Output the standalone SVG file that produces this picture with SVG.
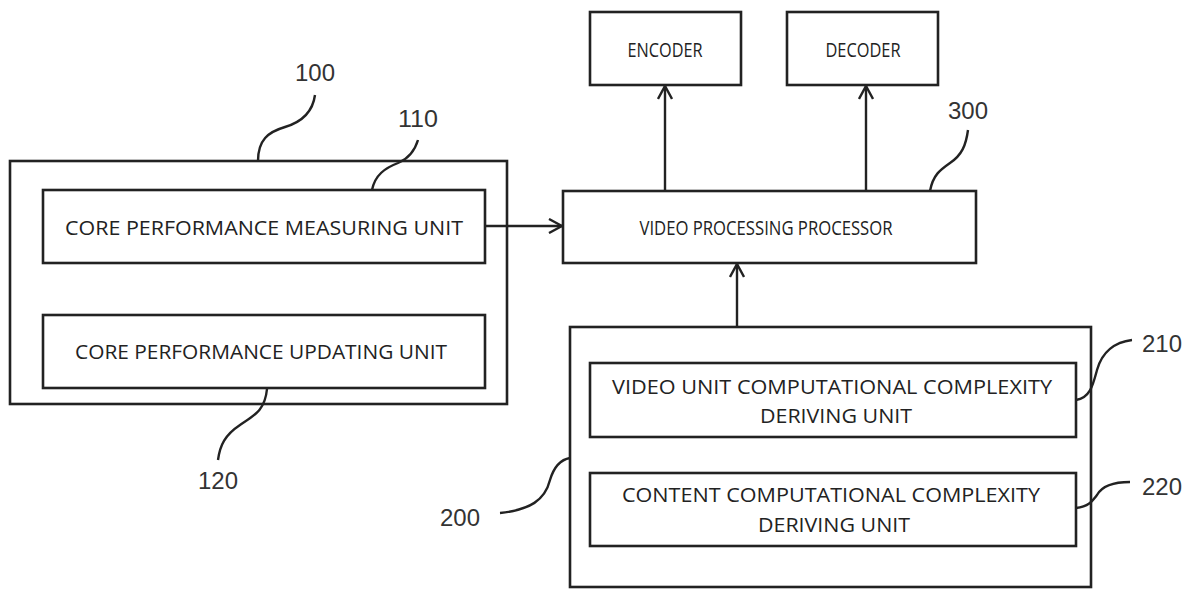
<svg xmlns="http://www.w3.org/2000/svg" width="1195" height="589" viewBox="0 0 1195 589">
  <defs>
    <marker id="arrow" viewBox="0 0 16 16" refX="15" refY="8" markerWidth="16" markerHeight="16" markerUnits="userSpaceOnUse" orient="auto">
      <path d="M2,1 L15,8 L2,15" fill="none" stroke="#222" stroke-width="2.4"/>
    </marker>
  </defs>
  <style>
    .box { fill: #fff; stroke: #222; stroke-width: 2.6; }
    .lbl { font-family: "Open Sans", "Noto Sans", sans-serif; font-size: 20px; fill: #222; text-anchor: middle; }
    .num { font-family: "Liberation Sans", "DejaVu Sans", sans-serif; font-size: 24px; fill: #333; text-anchor: middle; }
    .lead { fill: none; stroke: #222; stroke-width: 2.4; }
    .conn { fill: none; stroke: #222; stroke-width: 2.4; marker-end: url(#arrow); }
  </style>
  <rect width="1195" height="589" fill="#fff"/>

  <!-- core performance block -->
  <g id="n100">
    <rect class="box" x="10" y="161" width="497" height="243"/>
    <path class="lead" d="M258,161 C258,140 268,132 285,127 C305,121 313,110 315,95"/>
    <text class="num" x="315" y="81" textLength="40" lengthAdjust="spacingAndGlyphs">100</text>
  </g>
  <g id="n110">
    <rect class="box" x="43" y="190" width="442" height="73"/>
    <text class="lbl" x="264" y="235" textLength="398" lengthAdjust="spacingAndGlyphs">CORE PERFORMANCE MEASURING UNIT</text>
    <path class="lead" d="M372,190 C375,175 385,168 398,163 C410,158 415,150 418,140"/>
    <text class="num" x="418" y="127" textLength="40" lengthAdjust="spacingAndGlyphs">110</text>
  </g>
  <g id="n120">
    <rect class="box" x="43" y="315" width="442" height="73"/>
    <text class="lbl" x="261" y="359" textLength="372" lengthAdjust="spacingAndGlyphs">CORE PERFORMANCE UPDATING UNIT</text>
    <path class="lead" d="M267,389 C265,410 255,415 240,425 C225,435 220,445 218,460"/>
    <text class="num" x="218" y="489" textLength="40" lengthAdjust="spacingAndGlyphs">120</text>
  </g>

  <!-- processor and codecs -->
  <g id="n300">
    <rect class="box" x="563" y="191" width="413" height="72"/>
    <text class="lbl" x="766" y="235" textLength="253" lengthAdjust="spacingAndGlyphs">VIDEO PROCESSING PROCESSOR</text>
    <path class="lead" d="M930,191 C933,175 940,170 950,163 C962,155 966,145 968,130"/>
    <text class="num" x="968" y="119" textLength="40" lengthAdjust="spacingAndGlyphs">300</text>
  </g>
  <g id="encoder">
    <rect class="box" x="590" y="12" width="151" height="73"/>
    <text class="lbl" x="665" y="57" textLength="75" lengthAdjust="spacingAndGlyphs">ENCODER</text>
  </g>
  <g id="decoder">
    <rect class="box" x="787" y="12" width="151" height="73"/>
    <text class="lbl" x="863" y="57" textLength="75" lengthAdjust="spacingAndGlyphs">DECODER</text>
  </g>

  <!-- computational complexity block -->
  <g id="n200">
    <rect class="box" x="570" y="327" width="521" height="260"/>
    <path class="lead" d="M570,458 C558,460 553,470 550,480 C545,500 530,510 500,513"/>
    <text class="num" x="460" y="526" textLength="40" lengthAdjust="spacingAndGlyphs">200</text>
  </g>
  <g id="n210">
    <rect class="box" x="590" y="363" width="486" height="74"/>
    <text class="lbl" x="832" y="394" textLength="440" lengthAdjust="spacingAndGlyphs">VIDEO UNIT COMPUTATIONAL COMPLEXITY</text>
    <text class="lbl" x="836" y="423" textLength="152" lengthAdjust="spacingAndGlyphs">DERIVING UNIT</text>
    <path class="lead" d="M1076,400 C1090,398 1093,385 1097,370 C1102,352 1115,342 1132,340"/>
    <text class="num" x="1162" y="352" textLength="40" lengthAdjust="spacingAndGlyphs">210</text>
  </g>
  <g id="n220">
    <rect class="box" x="590" y="473" width="486" height="73"/>
    <text class="lbl" x="831" y="502" textLength="418" lengthAdjust="spacingAndGlyphs">CONTENT COMPUTATIONAL COMPLEXITY</text>
    <text class="lbl" x="834" y="532" textLength="152" lengthAdjust="spacingAndGlyphs">DERIVING UNIT</text>
    <path class="lead" d="M1076,508 C1090,506 1093,500 1097,495 C1102,486 1115,482 1130,482"/>
    <text class="num" x="1162" y="495" textLength="40" lengthAdjust="spacingAndGlyphs">220</text>
  </g>

  <!-- connectors -->
  <g id="connectors">
    <path class="conn" d="M485,226 L562,226"/>
    <path class="conn" d="M737,327 L737,264"/>
    <path class="conn" d="M665,191 L665,86"/>
    <path class="conn" d="M866,191 L866,86"/>
  </g>
</svg>
